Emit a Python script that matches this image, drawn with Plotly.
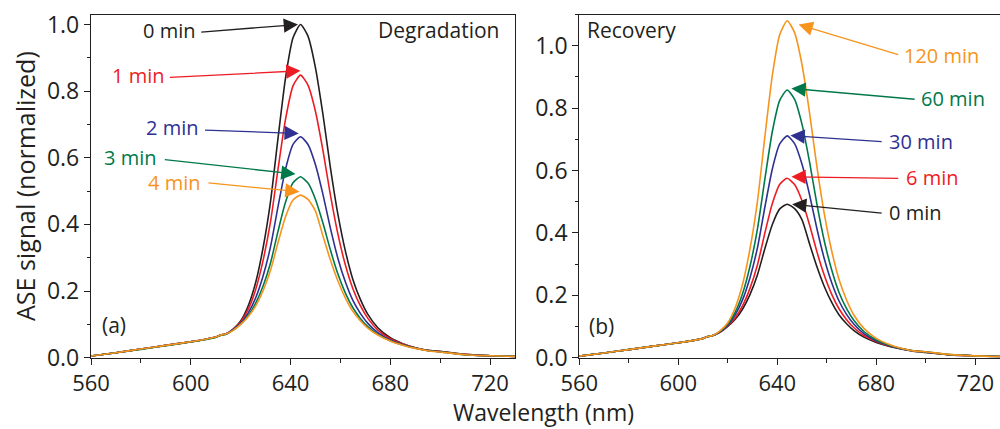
import plotly.graph_objects as go

# ---------------- data ----------------
wavelength = [560, 570, 580, 590, 600, 605, 610, 612, 614, 617, 620, 623, 626, 629, 632, 635, 638,
              641, 644, 647, 650, 653, 656, 659, 662, 665, 668, 671, 675, 680, 685, 690, 695, 700,
              710, 720, 730]

# Panel (a) Degradation
deg_labels = ["0 min", "1 min", "2 min", "3 min", "4 min"]
deg_0 = [.005, .015, .026, .037, .048, .054, .062, .068, .071, .086, .110, .155, .225, .33, .47, .66, .84,
         .96, 1.0, .965, .87, .73, .57, .43, .32, .235, .175, .13, .09, .06, .042, .03, .022, .019,
         .010, .006, .004]
deg_1 = [.005, .015, .026, .037, .048, .054, .062, .068, .071, .085, .107, .145, .204, .292, .409, .567, .716,
         .816, .848, .818, .739, .622, .488, .371, .278, .207, .156, .118, .083, .057, .041, .030, .022, .0185,
         .010, .006, .004]
deg_2 = [.005, .015, .026, .037, .048, .054, .062, .068, .071, .084, .103, .134, .179, .245, .334, .454, .566,
         .640, .663, .640, .579, .490, .388, .298, .227, .172, .133, .103, .075, .053, .039, .029, .0216, .018,
         .009, .006, .004]
deg_3 = [.005, .015, .025, .036, .047, .053, .061, .067, .070, .083, .101, .126, .163, .215, .285, .380, .467,
         .525, .543, .524, .475, .404, .323, .251, .194, .150, .118, .093, .070, .051, .038, .0285, .0215, .0175,
         .009, .006, .004]
deg_4 = [.005, .015, .026, .037, .048, .054, .062, .068, .071, .082, .100, .123, .155, .201, .263, .346, .423,
         .473, .488, .475, .440, .365, .293, .230, .179, .139, .111, .089, .068, .050, .0375, .028, .021, .017,
         .009, .006, .004]

# Panel (b) Recovery
rec_labels = ["0 min", "6 min", "30 min", "60 min", "120 min"]
rec_0 = [.005, .015, .026, .037, .048, .054, .062, .068, .071, .082, .100, .123, .156, .203, .266, .350, .427,
         .477, .492, .478, .442, .366, .292, .228, .177, .137, .109, .087, .066, .049, .037, .028, .021, .017,
         .009, .006, .004]
rec_6 = [.005, .015, .026, .037, .048, .054, .062, .068, .071, .083, .102, .128, .167, .223, .298, .400, .494,
         .556, .575, .555, .503, .427, .340, .264, .203, .156, .122, .096, .071, .052, .038, .0286, .0215, .0176,
         .009, .006, .004]
rec_30 = [.005, .015, .026, .037, .048, .054, .062, .068, .071, .084, .104, .137, .186, .257, .353, .483, .605,
          .685, .711, .686, .620, .524, .414, .317, .240, .181, .139, .107, .077, .054, .0395, .029, .0217, .018,
          .009, .006, .004]
rec_60 = [.005, .015, .026, .037, .048, .054, .062, .068, .071, .085, .107, .146, .206, .294, .413, .573, .725,
          .825, .858, .828, .748, .629, .493, .374, .281, .208, .157, .119, .084, .057, .041, .0295, .022, .0185,
          .010, .006, .004]
rec_120 = [.005, .015, .026, .037, .048, .054, .062, .068, .071, .087, .112, .160, .236, .350, .502, .709, .905,
           1.036, 1.08, 1.042, .939, .787, .613, .461, .342, .250, .185, .136, .094, .062, .043, .030, .022, .019,
           .010, .006, .004]

# arrow tip / tail and text positions (data units)
deg_tip = [(643.0, 1.0), (644.0, 0.861), (643.3, 0.673), (642.0, 0.551), (643.6, 0.498)]
deg_tail = [(603.6, 0.977), (591.0, 0.841), (605.1, 0.683), (589.0, 0.595), (606.5, 0.525)]
deg_text = [(602.6, 0.981), (590.1, 0.846), (603.8, 0.690), (586.9, 0.600), (604.6, 0.527)]

rec_tip = [(646.0, 0.492), (645.7, 0.580), (645.3, 0.712), (645.7, 0.863), (648.6, 1.068)]
rec_tail = [(682.8, 0.463), (689.5, 0.575), (682.8, 0.692), (696.1, 0.828), (689.5, 0.970)]
rec_text = [(684.3, 0.465), (691.3, 0.578), (684.3, 0.692), (697.3, 0.830), (690.3, 0.969)]

colors = ["#231f20", "#ed1c24", "#2e3192", "#00794a", "#f7941d"]
ink = "#231f20"
FONT = "Open Sans"

fig = go.Figure()
for lbl, ys, c in zip(deg_labels, [deg_0, deg_1, deg_2, deg_3, deg_4], colors):
    fig.add_trace(go.Scatter(x=wavelength, y=ys, mode="lines", name=lbl,
                             line=dict(color=c, width=1.6, shape="spline", smoothing=0.6),
                             xaxis="x", yaxis="y", showlegend=False))
for lbl, ys, c in zip(rec_labels, [rec_0, rec_6, rec_30, rec_60, rec_120], colors):
    fig.add_trace(go.Scatter(x=wavelength, y=ys, mode="lines", name=lbl,
                             line=dict(color=c, width=1.6, shape="spline", smoothing=0.6),
                             xaxis="x2", yaxis="y2", showlegend=False))

dom_y = [1 - 357.7 / 429, 1 - 14.5 / 429]
dom_a = [91 / 1000, 515 / 1000]
dom_b = [579.3 / 1000, 1.0]
xr = [560, 730]
yr_a = [0, 1.03]
yr_b = [0, 1.1]

def main_x(domain, anchor):
    return dict(domain=domain, anchor=anchor, range=xr, tickmode="linear", tick0=560, dtick=40,
                ticks="outside", ticklen=6, tickwidth=1.2, tickcolor=ink,
                minor=dict(tickmode="linear", tick0=560, dtick=20, ticks="outside", ticklen=4,
                           tickwidth=1.1, tickcolor=ink, showgrid=False),
                showline=True, linecolor=ink, linewidth=1.3, mirror=True, showgrid=False,
                zeroline=False, tickfont=dict(family=FONT, size=22, color=ink))

def main_y(domain, anchor, rng):
    return dict(domain=domain, anchor=anchor, range=rng, tickmode="linear", tick0=0, dtick=0.2,
                tickformat=".1f",
                ticks="outside", ticklen=6, tickwidth=1.2, tickcolor=ink,
                minor=dict(tickmode="linear", tick0=0, dtick=0.1, ticks="outside", ticklen=3,
                           tickwidth=1.1, tickcolor=ink, showgrid=False),
                showline=True, linecolor=ink, linewidth=1.3, mirror=True, showgrid=False,
                zeroline=False, tickfont=dict(family=FONT, size=23, color=ink))

def mirror_x(over, anchor):
    return dict(overlaying=over, anchor=anchor, side="top", range=xr, tickmode="linear", tick0=560,
                dtick=20, ticks="inside", ticklen=4, tickwidth=1.1, tickcolor=ink,
                showticklabels=False, showline=False, showgrid=False, zeroline=False)

def mirror_y(over, anchor, rng):
    return dict(overlaying=over, anchor=anchor, side="right", range=rng, tickmode="linear", tick0=0,
                dtick=0.1, ticks="inside", ticklen=4, tickwidth=1.1, tickcolor=ink,
                showticklabels=False, showline=False, showgrid=False, zeroline=False)

annotations = []
for (tx, ty), (ax, ay), (lx, ly), lbl, c in zip(deg_tip, deg_tail, deg_text, deg_labels, colors):
    annotations.append(dict(x=tx, y=ty, ax=ax, ay=ay, xref="x", yref="y", axref="x", ayref="y",
                            text="", showarrow=True, arrowhead=2, arrowsize=2.2, arrowwidth=1.3,
                            arrowcolor=c, standoff=0, startstandoff=0))
    annotations.append(dict(x=lx, y=ly, xref="x", yref="y", text=lbl, showarrow=False,
                            xanchor="right", yanchor="middle",
                            font=dict(family=FONT, size=20, color=c)))
for (tx, ty), (ax, ay), (lx, ly), lbl, c in zip(rec_tip, rec_tail, rec_text, rec_labels, colors):
    annotations.append(dict(x=tx, y=ty, ax=ax, ay=ay, xref="x2", yref="y2", axref="x2", ayref="y2",
                            text="", showarrow=True, arrowhead=2, arrowsize=2.2, arrowwidth=1.3,
                            arrowcolor=c, standoff=0, startstandoff=0))
    annotations.append(dict(x=lx, y=ly, xref="x2", yref="y2", text=lbl, showarrow=False,
                            xanchor="left", yanchor="middle",
                            font=dict(family=FONT, size=20, color=c)))

annotations += [
    dict(x=724.7, y=0.983, xref="x", yref="y", text="Degradation", showarrow=False,
         xanchor="right", yanchor="middle", font=dict(family=FONT, size=21, color=ink)),
    dict(x=563.8, y=0.098, xref="x", yref="y", text="(a)", showarrow=False,
         xanchor="left", yanchor="middle", font=dict(family=FONT, size=21, color=ink)),
    dict(x=562.5, y=1.05, xref="x2", yref="y2", text="Recovery", showarrow=False,
         xanchor="left", yanchor="middle", font=dict(family=FONT, size=21, color=ink)),
    dict(x=563.3, y=0.102, xref="x2", yref="y2", text="(b)", showarrow=False,
         xanchor="left", yanchor="middle", font=dict(family=FONT, size=21, color=ink)),
    dict(x=0.025, y=1 - 186 / 429, xref="paper", yref="paper", text="ASE signal (normalized)",
         showarrow=False, textangle=-90, xanchor="center", yanchor="middle",
         font=dict(family=FONT, size=25, color=ink)),
    dict(x=0.543, y=0.0, xref="paper", yref="paper", text="Wavelength (nm)",
         showarrow=False, xanchor="center", yanchor="bottom", borderpad=0,
         font=dict(family=FONT, size=23, color=ink)),
]

fig.update_layout(
    width=1000, height=429,
    margin=dict(l=0, r=0, t=0, b=0, autoexpand=False),
    paper_bgcolor="white", plot_bgcolor="white",
    xaxis=main_x(dom_a, "y"), yaxis=main_y(dom_y, "x", yr_a),
    xaxis2=main_x(dom_b, "y2"), yaxis2=main_y(dom_y, "x2", yr_b),
    xaxis3=mirror_x("x", "y"), yaxis3=mirror_y("y", "x", yr_a),
    xaxis4=mirror_x("x2", "y2"), yaxis4=mirror_y("y2", "x2", yr_b),
    annotations=annotations,
    font=dict(family=FONT, color=ink),
)

fig.write_html("out.html", config={"displayModeBar": False},
               post_script="document.body.style.margin='0px';document.body.style.padding='0px';"
                           "document.body.style.overflow='hidden';")
